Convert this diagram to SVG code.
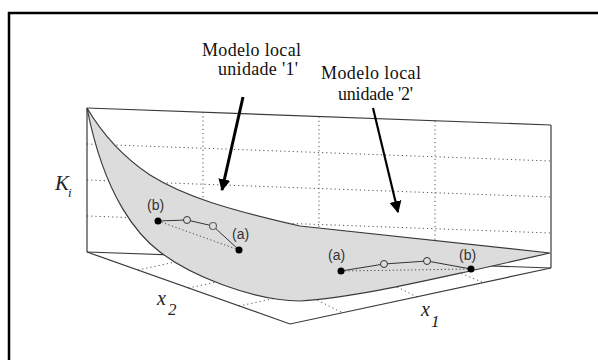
<svg xmlns="http://www.w3.org/2000/svg" width="598" height="360" viewBox="0 0 598 360">
<defs>
<style>
.edge{stroke:#3a3a3a;stroke-width:1.2;fill:none}
.grid{stroke:#555;stroke-width:1;stroke-dasharray:1.2 3;fill:none}
.surf{fill:#dcdcdc;stroke:#3a3a3a;stroke-width:1.2}
.lbl{font-family:"Liberation Serif","Times New Roman",serif;font-size:18px;fill:#111}
.ax{font-family:"Liberation Serif","Times New Roman",serif;font-style:italic;fill:#222}
.pt{font-family:"Liberation Sans",Arial,sans-serif;font-size:14px;fill:#333}
.chain{stroke:#333;stroke-width:1;fill:none}
.dot{stroke:#444;stroke-width:1;stroke-dasharray:1.2 2.5;fill:none}
.arrow{stroke:#000;fill:none}
</style>
<marker id="ah" viewBox="0 0 10 10" refX="9" refY="5" markerUnits="userSpaceOnUse" markerWidth="12" markerHeight="14" orient="auto">
<path d="M0,0 L10,5 L0,10 Z" fill="#000"/>
</marker>
</defs>
<rect x="0" y="0" width="598" height="360" fill="#fff"/>
<rect id="frame" x="9" y="13" width="650" height="400" fill="none" stroke="#000" stroke-width="2.5"/>

<g id="axes">
<!-- back wall grid -->
<line class="grid" x1="87" y1="144" x2="551" y2="161"/>
<line class="grid" x1="87" y1="180" x2="551" y2="197"/>
<line class="grid" x1="87" y1="216" x2="551" y2="233"/>
<line class="grid" x1="203" y1="112" x2="203" y2="256"/>
<line class="grid" x1="319" y1="116.5" x2="319" y2="260"/>
<line class="grid" x1="435" y1="121" x2="435" y2="264"/>
<!-- floor grid -->
<line class="grid" x1="138" y1="270" x2="203" y2="256"/>
<line class="grid" x1="188.5" y1="288" x2="319" y2="260"/>
<line class="grid" x1="239" y1="306" x2="435" y2="264"/>
<line class="grid" x1="341" y1="312" x2="305" y2="294"/>
<line class="grid" x1="417" y1="297" x2="385" y2="281"/>
<line class="grid" x1="482" y1="282" x2="450" y2="269"/>
<!-- box edges -->
<line class="edge" x1="87" y1="108" x2="551" y2="125"/>
<line class="edge" x1="87" y1="108" x2="87" y2="252"/>
<line class="edge" x1="551" y1="125" x2="551" y2="268"/>
<line class="edge" x1="87" y1="252" x2="551" y2="268"/>
<polyline class="edge" points="87,252 290,324 551,268"/>
</g>

<g id="surface">
<path class="surf" d="M87,108 C100,130 120,155 150,175 C185,197 230,210 300,226 L550,253 L470,271 C420,282 350,298 300,301 C250,300 190,275 160,252 C140,237 105,200 87,108 Z"/>
</g>

<g id="unit1-chain">
<line class="dot" x1="158" y1="221" x2="239" y2="250"/>
<polyline class="chain" points="158,221 187,220 213,226 239,250"/>
<circle cx="158" cy="221" r="3.5" fill="#000"/>
<circle cx="187" cy="220" r="3.5" fill="#dcdcdc" stroke="#333" stroke-width="1"/>
<circle cx="213" cy="226" r="3.5" fill="#dcdcdc" stroke="#666" stroke-width="1.2"/>
<circle cx="239" cy="250" r="3.5" fill="#000"/>
<text class="pt" x="147" y="210">(b)</text>
<text class="pt" x="232" y="239">(a)</text>
</g>

<g id="unit2-chain">
<line class="dot" x1="341" y1="271" x2="471" y2="269"/>
<polyline class="chain" points="341,271 384,264 427,261 471,269"/>
<circle cx="341" cy="271" r="3.5" fill="#000"/>
<circle cx="384" cy="264" r="3.5" fill="#dcdcdc" stroke="#333" stroke-width="1"/>
<circle cx="427" cy="261" r="3.5" fill="#dcdcdc" stroke="#333" stroke-width="1"/>
<circle cx="471" cy="269" r="3.5" fill="#000"/>
<text class="pt" x="328" y="260">(a)</text>
<text class="pt" x="459" y="260">(b)</text>
</g>

<g id="axis-labels">
<text class="ax" x="55" y="190" font-size="21">K</text>
<text class="ax" x="68" y="197" font-size="13">i</text>
<text class="ax" x="157" y="305" font-size="20">x</text>
<text class="ax" x="168" y="315" font-size="17">2</text>
<text class="ax" x="421" y="316" font-size="20">x</text>
<text class="ax" x="431" y="327" font-size="17">1</text>
</g>

<g id="label-unit1">
<text class="lbl" x="202" y="56" textLength="99">Modelo local</text>
<text class="lbl" x="218" y="75" textLength="80">unidade '1'</text>
</g>
<g id="label-unit2">
<text class="lbl" x="321" y="79" textLength="100">Modelo local</text>
<text class="lbl" x="338" y="100" textLength="75">unidade '2'</text>
</g>

<g id="connectors">
<line class="arrow" stroke-width="3" x1="243" y1="97" x2="222" y2="190" marker-end="url(#ah)"/>
<line class="arrow" stroke-width="2.2" x1="373" y1="108" x2="398" y2="212" marker-end="url(#ah)"/>
</g>
</svg>
